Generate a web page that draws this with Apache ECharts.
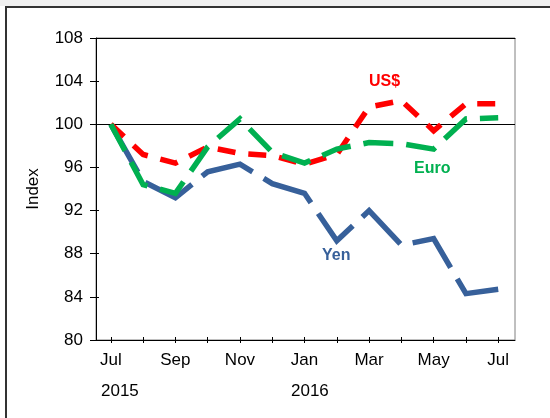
<!DOCTYPE html>
<html>
<head>
<meta charset="utf-8">
<script src="https://cdn.jsdelivr.net/npm/echarts@6/dist/echarts.min.js"></script>
<style>
  html, body { margin: 0; padding: 0; background: #fff; }
  #chart { width: 550px; height: 418px; }
</style>
</head>
<body>
<div id="chart"></div>
<script>
// months Jul 2015 .. Jul 2016
const months = ['Jul', 'Aug', 'Sep', 'Oct', 'Nov', 'Dec', 'Jan', 'Feb', 'Mar', 'Apr', 'May', 'Jun', 'Jul']
const yearLabels = ['2015', '2016']
const usd = [100, 97.2, 96.4, 97.9, 97.3, 97.1, 96.3, 97.2, 101.6, 102.2, 99.4, 101.9, 101.9]
const euro = [100, 94.4, 93.6, 97.9, 100.5, 97.4, 96.4, 97.7, 98.3, 98.2, 97.7, 100.5, 100.6]
const yen = [100, 94.7, 93.2, 95.6, 96.3, 94.5, 93.6, 89.2, 92.0, 88.8, 89.4, 84.3, 84.7]

const font = 'Liberation Sans, Arial, sans-serif'
const idx = months.map((m, i) => i)
const toPairs = (arr) => arr.map((v, i) => [i, v])

const lineSeries = (name, data, color, dash) => {
  return {
    name: name,
    type: 'line',
    data: toPairs(data),
    symbol: 'none',
    xAxisIndex: 0,
    yAxisIndex: 0,
    lineStyle: { color: color, width: 5.5, type: dash, cap: 'butt', join: 'miter' },
    z: 3
  }
}

const chart = echarts.init(document.getElementById('chart'))
const option = {
  animation: false,
  grid: {
    left: 96, top: 38, right: 35, bottom: 78,
    show: true, borderColor: '#808080', borderWidth: 1
  },
  xAxis: [
    {
      type: 'value', min: -0.46, max: 12.52, position: 'bottom',
      splitLine: { show: false },
      axisLine: { onZero: false, lineStyle: { color: '#000', width: 1 } },
      axisTick: { length: 3, lineStyle: { color: '#000' }, customValues: idx },
      axisLabel: {
        customValues: idx.filter(i => i % 2 == 0),
        formatter: (v) => months[v],
        color: '#000', fontFamily: font, fontSize: 17, margin: 12
      }
    },
    {
      // ticks that poke up into the plot
      type: 'value', min: -0.46, max: 12.52, position: 'bottom',
      splitLine: { show: false },
      axisLine: { show: false, onZero: false },
      axisTick: { inside: true, length: 3, lineStyle: { color: '#000' }, customValues: idx },
      axisLabel: { show: false }
    },
    {
      type: 'value', min: -0.46, max: 12.52, position: 'top',
      splitLine: { show: false },
      axisLine: { onZero: false, lineStyle: { color: '#000', width: 1 } },
      axisTick: { show: false },
      axisLabel: { show: false }
    }
  ],
  yAxis: [
    {
      type: 'value', min: 80, max: 108, interval: 4, position: 'left',
      name: 'Index', nameLocation: 'middle', nameGap: 54,
      nameTextStyle: { color: '#000', fontFamily: font, fontSize: 17 },
      splitLine: { show: false },
      axisLine: { show: true, onZero: false, lineStyle: { color: '#000', width: 1 } },
      axisTick: { show: true, length: 6, lineStyle: { color: '#000' } },
      axisLabel: { color: '#000', fontFamily: font, fontSize: 17, margin: 13 }
    },
    {
      type: 'value', min: 80, max: 108, interval: 4, position: 'left',
      splitLine: { show: false },
      axisLine: { show: false, onZero: false },
      axisTick: { show: true, inside: true, length: 3, lineStyle: { color: '#000' } },
      axisLabel: { show: false }
    }
  ],
  series: [
    lineSeries('Yen', yen, '#37609A', [55, 13]),
    lineSeries('US$', usd, '#FF0000', [18, 13]),
    Object.assign(lineSeries('Euro', euro, '#00B050', [30, 13]), {
      markLine: {
        silent: true,
        symbol: 'none',
        label: { show: false },
        lineStyle: { color: '#000', width: 1, type: 'solid' },
        data: [{ yAxis: 100 }],
        z: 1
      }
    })
  ],
  graphic: [
    { type: 'rect', shape: { x: 0, y: 0, width: 550, height: 6 }, style: { fill: '#f0f0f0' }, silent: true },
    // outer frame, only left and top edges are inside the picture
    { type: 'polyline', shape: { points: [[6, 418], [6, 7], [550, 7]] }, style: { fill: null, stroke: '#333', lineWidth: 2 }, silent: true },
    { type: 'text', left: 101, top: 383, style: { text: yearLabels[0], fill: '#000', font: '17px ' + font } },
    { type: 'text', left: 291, top: 383, style: { text: yearLabels[1], fill: '#000', font: '17px ' + font } },
    { type: 'text', left: 369, top: 74, style: { text: 'US$', fill: '#FF0000', font: 'bold 16px ' + font } },
    { type: 'text', left: 414, top: 161, style: { text: 'Euro', fill: '#00B050', font: 'bold 16px ' + font } },
    { type: 'text', left: 322, top: 248, style: { text: 'Yen', fill: '#37609A', font: 'bold 16px ' + font } }
  ]
}
chart.setOption(option)
</script>
</body>
</html>
